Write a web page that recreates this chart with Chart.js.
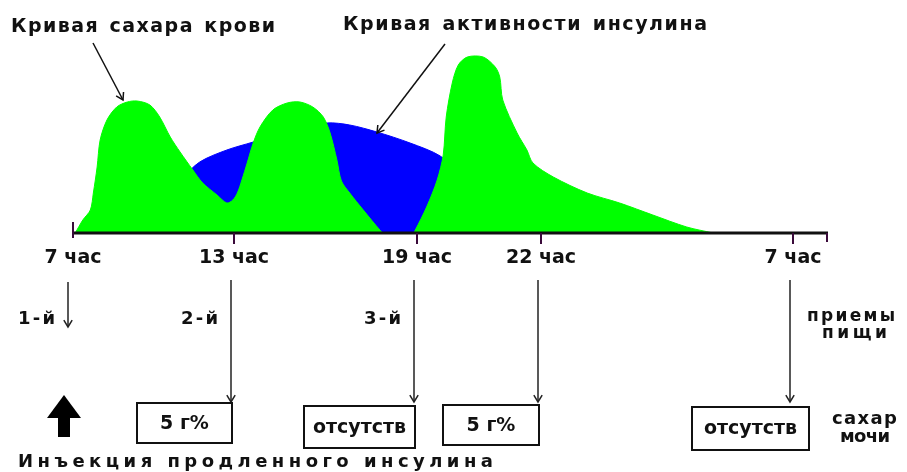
<!DOCTYPE html>
<html>
<head>
<meta charset="utf-8">
<script src="https://cdn.jsdelivr.net/npm/chart.js"></script>
<style>
    html, body { margin: 0; padding: 0; background: #fff; }
    #wrap { width: 907px; height: 472px; position: relative; }
</style>
</head>
<body>
<div id="wrap"><canvas id="chart"></canvas></div>
<script>
// x: position along the time axis (0..100), y: relative level (0..100)
var tickLabels = ['7 час', '13 час', '19 час', '22 час', '7 час'];
var tickPos = [0, 21.4, 45.6, 62.1, 95.5];

var sugarX = [0.3, 1.3, 2.3, 2.7, 3.2, 3.6, 4.5, 5.8, 7.2, 8.5, 10.2, 11.5, 12.9, 14.2, 15.9, 17.2, 19.1, 20.4, 21.2, 21.8,
    22.4, 23.1, 23.9, 24.8, 26.5, 28.4, 30.1, 31.8, 33.2, 34.1, 35.0, 35.6, 36.7, 38.5, 40.7, 41.2, 45.1, 45.4,
    46.9, 48.3, 49.1, 49.5, 50.3, 51.1, 52.3, 54.4, 56.0, 56.6, 57.0, 58.9, 60.2, 61.0, 63.7, 68.2, 72.5, 76.9, 81.4, 84.9];
var sugarY = [0, 6.5, 11.5, 20, 33, 46.5, 56.5, 63, 65.5, 66, 64, 58, 48, 40.5, 31.5, 25, 19, 15, 16.5, 20,
    26.5, 35, 45, 53, 61.5, 65, 65.5, 63, 58, 50, 36.5, 26, 20, 11.5, 1.5, 0, 0, 1.5,
    13, 26.5, 39, 58, 75, 84, 88, 88, 83, 78, 66.5, 50, 41.5, 35, 28, 20, 15, 9, 3, 0];

var insulinX = [6.2, 10.2, 14.2, 16.8, 20.4, 23.9, 28.8, 33.7, 36.7, 40.3, 44.7, 48.7, 51.3, 53.3, 54.6];
var insulinY = [0, 14, 26.5, 35.5, 41.5, 45.5, 51.5, 55, 54, 50.5, 45, 38.5, 29, 14, 0];

var mealLabels = ['1-й', '2-й', '3-й'];
var urineSugar = ['5 г%', 'отсутств', '5 г%', 'отсутств'];

var titleSugar = 'Кривая сахара крови';
var titleInsulin = 'Кривая активности инсулина';
var injectionText = 'Инъекция продленного инсулина';

// layout of the drawn decorations (pixels)
var boxLayout = [
    { right: 1, width: 95, top: 403, height: 40 },
    { right: 1, width: 111, top: 406, height: 42 },
    { right: 1, width: 96, top: 405, height: 40 },
    { right: 19, width: 117, top: 407, height: 43 }
];

document.addEventListener('DOMContentLoaded', function() {
    function toPoints(xs, ys) {
        return xs.map(function(x, i) { return { x: x, y: ys[i] }; });
    }

    function line(ctx, x1, y1, x2, y2) {
        ctx.beginPath();
        ctx.moveTo(x1, y1);
        ctx.lineTo(x2, y2);
        ctx.stroke();
    }

    // open "V" arrow head pointing along the segment (x1,y1)->(x2,y2)
    function arrow(ctx, x1, y1, x2, y2, size) {
        line(ctx, x1, y1, x2, y2);
        var a = Math.atan2(y2 - y1, x2 - x1);
        ctx.beginPath();
        ctx.moveTo(x2 - size * Math.cos(a - 0.55), y2 - size * Math.sin(a - 0.55));
        ctx.lineTo(x2, y2);
        ctx.lineTo(x2 - size * Math.cos(a + 0.55), y2 - size * Math.sin(a + 0.55));
        ctx.stroke();
    }

    // text spread out to a given width; extra room goes to letters and word gaps
    function spaced(ctx, text, left, cy, width, font, wordWeight) {
        ctx.font = font;
        ctx.textAlign = 'left';
        ctx.textBaseline = 'middle';
        var chars = Array.from(text);
        var base = 0, slots = 0;
        wordWeight = wordWeight || 1;
        chars.forEach(function(c, i) {
            base += ctx.measureText(c).width;
            if (i < chars.length - 1) slots += (c === ' ' || chars[i + 1] === ' ') ? wordWeight : 1;
        });
        var gap = slots > 0 ? (width - base) / slots : 0;
        var x = left;
        chars.forEach(function(c, i) {
            ctx.fillText(c, x, cy);
            var w = (c === ' ' || chars[i + 1] === ' ') ? wordWeight : 1;
            x += ctx.measureText(c).width + gap * w;
        });
    }

    var overlay = {
        id: 'overlay',
        afterDraw: function(chart) {
            var ctx = chart.ctx;
            var xs = chart.scales.x, ys = chart.scales.y;
            var y0 = ys.getPixelForValue(0);
            var x0 = xs.getPixelForValue(0), x1 = xs.getPixelForValue(100);
            var bold = 'bold 19px "DejaVu Sans", sans-serif';
            ctx.save();

            // time axis
            ctx.strokeStyle = '#111';
            ctx.lineWidth = 3;
            line(ctx, x0, y0, x1 + 1, y0);
            ctx.strokeStyle = '#3a0a3a';
            ctx.lineWidth = 2;
            var tx = tickPos.map(function(p) { return Math.round(xs.getPixelForValue(p)); });
            tx.forEach(function(x, i) {
                if (i === 0) line(ctx, x, y0 - 11, x, y0 + 5);
                else line(ctx, x, y0, x, y0 + 11);
            });
            line(ctx, x1, y0, x1, y0 + 9);

            ctx.fillStyle = '#111';
            ctx.font = bold;
            ctx.textAlign = 'center';
            ctx.textBaseline = 'middle';
            tickLabels.forEach(function(t, i) {
                ctx.fillText(t, tx[i], y0 + 25);
            });

            // titles with pointers
            spaced(ctx, titleSugar, 11, 27, 264, bold, 1.8);
            spaced(ctx, titleInsulin, 343, 25, 364, bold, 1.8);
            ctx.strokeStyle = '#111';
            ctx.lineWidth = 1.5;
            arrow(ctx, 93, 43, 123, 100, 8);
            arrow(ctx, 445, 44, 377, 133, 8);

            // meals
            var mealFont = 'bold 18px "DejaVu Sans", sans-serif';
            ctx.strokeStyle = '#222';
            ctx.lineWidth = 1.5;
            arrow(ctx, tx[0] - 5, 282, tx[0] - 5, 327, 8);
            for (var i = 1; i < tx.length; i++) {
                arrow(ctx, tx[i] - 3, 280, tx[i] - 3, 402, 8);
            }
            mealLabels.forEach(function(t, i) {
                var lx = i === 0 ? tx[0] - 5 : tx[i] - 3;
                spaced(ctx, t, lx - 13 - 37, 319, 37, mealFont);
            });
            spaced(ctx, 'приемы', 807, 317, 88, 'bold 17px "DejaVu Sans", sans-serif');
            spaced(ctx, 'пищи', 822, 334, 65, 'bold 17px "DejaVu Sans", sans-serif');

            // urine sugar boxes
            ctx.strokeStyle = '#111';
            ctx.lineWidth = 2;
            urineSugar.forEach(function(t, i) {
                var b = boxLayout[i];
                var r = tx[i + 1] - 3 + b.right;
                ctx.strokeRect(r - b.width, b.top, b.width, b.height);
                ctx.font = bold;
                ctx.textAlign = 'center';
                ctx.textBaseline = 'middle';
                ctx.fillText(t, r - b.width / 2, b.top + b.height / 2 + 1);
            });
            spaced(ctx, 'сахар', 832, 419, 65, 'bold 18px "DejaVu Sans", sans-serif');
            spaced(ctx, 'мочи', 840, 437, 50, 'bold 18px "DejaVu Sans", sans-serif');

            // injection arrow
            ctx.fillStyle = '#000';
            ctx.beginPath();
            ctx.moveTo(47, 418);
            ctx.lineTo(64, 395);
            ctx.lineTo(81, 418);
            ctx.closePath();
            ctx.fill();
            ctx.fillRect(58, 417, 12, 20);

            ctx.fillStyle = '#111';
            spaced(ctx, injectionText, 18, 462, 475, 'bold 18px "DejaVu Sans", sans-serif');
            ctx.restore();
        }
    };

    var ctx = document.getElementById('chart').getContext('2d');
    var chart = new Chart(ctx, {
        type: 'line',
        data: {
            datasets: [{
                label: 'Кривая сахара крови',
                data: toPoints(sugarX, sugarY),
                borderColor: '#00ff00',
                backgroundColor: '#00ff00',
                borderWidth: 1,
                fill: 'origin',
                tension: 0.3,
                pointRadius: 0,
                order: 0
            }, {
                label: 'Кривая активности инсулина',
                data: toPoints(insulinX, insulinY),
                borderColor: '#0000ff',
                backgroundColor: '#0000ff',
                borderWidth: 1,
                fill: 'origin',
                tension: 0.3,
                pointRadius: 0,
                order: 1
            }]
        },
        options: {
            responsive: true,
            maintainAspectRatio: false,
            animation: false,
            layout: { padding: { left: 73, right: 80, top: 33, bottom: 239 } },
            scales: {
                x: { type: 'linear', min: 0, max: 100, display: false },
                y: { min: 0, max: 100, display: false }
            },
            plugins: {
                legend: { display: false },
                tooltip: { enabled: false }
            }
        },
        plugins: [overlay]
    });
});
</script>
</body>
</html>
